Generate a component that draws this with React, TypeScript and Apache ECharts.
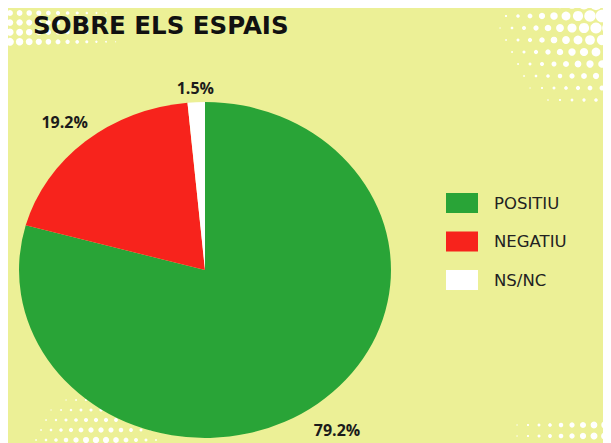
import React, { useEffect, useRef } from "react";
import * as echarts from "echarts";

const titleText = "SOBRE ELS ESPAIS";
const categories = ["POSITIU", "NEGATIU", "NS/NC"];
const values = [79.2, 19.2, 1.5];
const colors = ["#29a437", "#f7231c", "#ffffff"];
const BG = "#ecf096";

// pie geometry (chart pixels)
const CX = 197;
const CY = 262;
const R = 168;
const SX = 1.107;

function halftone(
  x0: number, y0: number, x1: number, y1: number,
  pitch: number, ax: number, ay: number, reach: number, rmax: number, stagger: boolean
) {
  const out: any[] = [];
  let row = 0;
  for (let y = y0; y <= y1; y += pitch, row++) {
    const off = stagger && row % 2 === 1 ? pitch / 2 : 0;
    for (let x = x0 + off; x <= x1; x += pitch) {
      const d = Math.hypot(x - ax, y - ay);
      const r = rmax * (1 - d / reach);
      if (r > 0.45) {
        out.push({
          type: "circle",
          silent: true,
          z: -10,
          shape: { cx: x, cy: y, r },
          style: { fill: "#ffffff" },
        });
      }
    }
  }
  return out;
}

export default function App() {
  const ref = useRef<HTMLDivElement>(null);
  useEffect(() => {
    if (!ref.current) return;
    const chart = echarts.init(ref.current, null, { renderer: "svg" });
    const total = values.reduce((a, b) => a + b, 0);

    const series = categories.map((name, i) => ({
      type: "custom",
      name,
      coordinateSystem: "none",
      itemStyle: { color: colors[i] },
      data: [[values[i]]],
      renderItem: (params: any, api: any) => {
        const v = api.value(0);
        const before = values.slice(0, i).reduce((a, b) => a + b, 0);
        const start = -Math.PI / 2 + (before / total) * Math.PI * 2;
        const end = start + (v / total) * Math.PI * 2;
        const mid = (start + end) / 2;
        const ex = Math.cos(mid) * R * SX;
        const ey = Math.sin(mid) * R;
        const len = Math.hypot(ex, ey);
        const nx = ex / len;
        const ny = ey / len;
        const text = v.toFixed(1) + "%";
        const hw = (text.length * 9.7) / 2;
        const hh = 7;
        const dist = 9 + Math.abs(nx) * hw + Math.abs(ny) * hh;
        const tx = CX + ex + nx * dist;
        const ty = CY + ey + ny * dist + 3;
        return {
          type: "group",
          children: [
            {
              type: "sector",
              x: CX,
              y: CY,
              scaleX: SX,
              scaleY: 1,
              shape: { cx: 0, cy: 0, r: R, r0: 0, startAngle: start, endAngle: end, clockwise: true },
              style: { fill: colors[i] },
            },
            {
              type: "text",
              x: tx,
              y: ty,
              style: {
                text,
                fill: "#1b1b1b",
                fontFamily: "Open Sans",
                fontWeight: "bold",
                fontSize: 16,
                align: "center",
                verticalAlign: "middle",
                textAlign: "center",
                textVerticalAlign: "middle",
              },
            },
          ],
        };
      },
    }));

    const graphics = [
      ...halftone(2, 5, 118, 36, 9.6, 0, 42, 125, 4.2, false),
      ...halftone(480, -4, 610, 95, 12, 603, 0, 125, 7, true),
      ...halftone(8, 392, 175, 440, 10, 90, 452, 80, 4.3, true),
      ...halftone(487, 417, 610, 440, 11, 615, 432, 125, 4.6, false),
    ];

    chart.setOption({
      animation: false,
      backgroundColor: BG,
      color: colors,
      title: {
        text: titleText,
        left: 25,
        top: 5,
        padding: 0,
        textStyle: {
          fontFamily: "DejaVu Sans",
          fontWeight: "bold",
          fontSize: 24.5,
          color: "#111111",
        },
      },
      legend: {
        orient: "vertical",
        left: 438,
        top: 185,
        padding: 0,
        itemWidth: 32,
        itemHeight: 20,
        itemGap: 18.5,
        icon: "rect",
        selectedMode: false,
        data: categories,
        textStyle: {
          fontFamily: "DejaVu Sans",
          fontSize: 16.5,
          color: "#222222",
          padding: [0, 0, 0, 11],
        },
      },
      graphic: graphics,
      series,
    });
    return () => chart.dispose();
  }, []);
  return <div ref={ref} style={{ width: 603, height: 435, background: BG }} />;
}
